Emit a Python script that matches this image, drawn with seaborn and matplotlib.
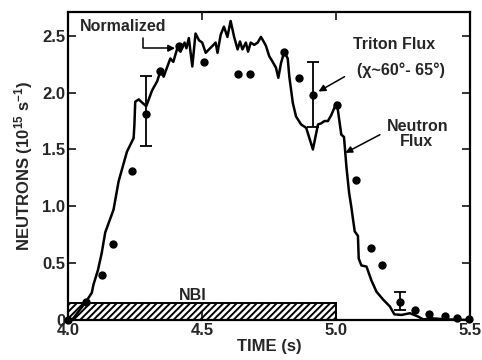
import matplotlib
matplotlib.use("Agg")
import matplotlib.pyplot as plt
import seaborn as sns
import pandas as pd

# ---- data ----
neutron_t = [4.015, 4.067, 4.089, 4.095, 4.112, 4.126, 4.139, 4.170, 4.189, 4.220,
             4.245, 4.248, 4.251, 4.264, 4.292, 4.314, 4.333, 4.345, 4.357, 4.382,
             4.393, 4.408, 4.420, 4.435, 4.442, 4.451, 4.464, 4.476, 4.489, 4.501,
             4.514, 4.526, 4.539, 4.551, 4.558, 4.570, 4.582, 4.595, 4.607, 4.620,
             4.633, 4.642, 4.651, 4.664, 4.672, 4.682, 4.695, 4.708, 4.720, 4.730,
             4.739, 4.751, 4.764, 4.776, 4.785, 4.795, 4.807, 4.820, 4.826, 4.839,
             4.851, 4.870, 4.889, 4.914, 4.933, 4.945, 4.957, 4.970, 4.982, 4.993,
             5.001, 5.007, 5.020, 5.030, 5.039, 5.049, 5.057, 5.064, 5.070, 5.082,
             5.085, 5.095, 5.114, 5.132, 5.151, 5.176, 5.201, 5.218, 5.245, 5.276,
             5.307, 5.326, 5.357, 5.420, 5.500]
neutron_v = [0.00, 0.16, 0.24, 0.31, 0.44, 0.59, 0.77, 0.97, 1.22, 1.48,
             1.60, 1.72, 1.92, 1.94, 1.88, 2.02, 2.10, 2.19, 2.14, 2.30,
             2.27, 2.39, 2.36, 2.44, 2.39, 2.48, 2.23, 2.52, 2.46, 2.44,
             2.35, 2.38, 2.41, 2.44, 2.35, 2.51, 2.58, 2.49, 2.63, 2.49,
             2.38, 2.45, 2.38, 2.44, 2.36, 2.44, 2.42, 2.44, 2.49, 2.45,
             2.41, 2.32, 2.27, 2.22, 2.13, 2.26, 2.36, 2.30, 2.14, 1.91,
             1.79, 1.72, 1.69, 1.50, 1.72, 1.73, 1.75, 1.75, 1.80, 1.86,
             1.91, 1.85, 1.63, 1.61, 1.35, 1.12, 1.00, 0.88, 0.78, 0.74,
             0.54, 0.48, 0.47, 0.35, 0.25, 0.18, 0.12, 0.05, 0.045, 0.06,
             0.03, 0.005, 0.015, 0.005, 0.00]

triton_t = [4.000, 4.067, 4.126, 4.169, 4.239, 4.292, 4.342, 4.415, 4.508, 4.636,
            4.679, 4.805, 4.861, 4.916, 5.004, 5.076, 5.130, 5.173, 5.239, 5.295,
            5.349, 5.408, 5.451, 5.497]
triton_v = [0.00, 0.16, 0.40, 0.67, 1.31, 1.81, 2.19, 2.41, 2.27, 2.16,
            2.16, 2.36, 2.13, 1.98, 1.89, 1.23, 0.63, 0.48, 0.16, 0.09,
            0.05, 0.035, 0.02, 0.005]

err_t = [4.292, 4.916, 5.239]
err_v = [1.81, 1.98, 0.16]
err_lo = [0.28, 0.28, 0.07]
err_hi = [0.34, 0.29, 0.09]

nbi_start = 4.0
nbi_end = 5.0
nbi_height = 0.15

x_ticks = [4.0, 4.5, 5.0, 5.5]
x_ticklabels = ["4.0", "4.5", "5.0", "5.5"]
y_ticks = [0, 0.5, 1.0, 1.5, 2.0, 2.5]
y_ticklabels = ["0", "0.5", "1.0", "1.5", "2.0", "2.5"]

# ---- style ----
sns.set_theme(style="ticks")
plt.rcParams['font.family'] = ['Liberation Sans', 'DejaVu Sans']
plt.rcParams['font.weight'] = 'bold'
plt.rcParams['hatch.linewidth'] = 1.4
plt.rcParams['mathtext.fontset'] = 'custom'
plt.rcParams['mathtext.rm'] = 'Liberation Sans:bold'
plt.rcParams['mathtext.it'] = 'Liberation Sans:bold'
plt.rcParams['mathtext.bf'] = 'Liberation Sans:bold'

fig = plt.figure(figsize=(4.82, 3.60), dpi=100)
ax = fig.add_axes([0.141, 0.111, 0.834, 0.856])

df_n = pd.DataFrame({"t": neutron_t, "v": neutron_v})
df_tr = pd.DataFrame({"t": triton_t, "v": triton_v})

ax.bar(nbi_start, nbi_height, width=nbi_end - nbi_start, align='edge',
       fill=False, hatch='/////', edgecolor='black', linewidth=1.4, zorder=1)

sns.lineplot(data=df_n, x="t", y="v", ax=ax, sort=False, estimator=None,
             color="black", linewidth=1.8, zorder=3)
sns.scatterplot(data=df_tr, x="t", y="v", ax=ax, color="black", s=36,
                edgecolor="black", linewidth=0, zorder=4, clip_on=False)
ax.errorbar(err_t, err_v, yerr=[err_lo, err_hi], fmt='none', ecolor='black',
            elinewidth=1.3, capsize=4, capthick=1.3, zorder=4)

ax.set_xlim(4.0, 5.5)
ax.set_ylim(0, 2.71)
ax.set_xticks(x_ticks)
ax.set_xticklabels(x_ticklabels)
ax.set_yticks(y_ticks)
ax.set_yticklabels(y_ticklabels)
ax.tick_params(axis='both', direction='in', length=6, width=1.3, labelsize=12,
               top=True, right=True)
ax.tick_params(axis='x', pad=2)
ax.tick_params(axis='y', pad=2)
for lab in ax.get_xticklabels() + ax.get_yticklabels():
    lab.set_fontweight('bold')
for sp in ax.spines.values():
    sp.set_linewidth(1.6)
    sp.set_color('black')

ax.set_xlabel("TIME (s)", fontsize=12, fontweight='bold', labelpad=1)
ax.set_ylabel("NEUTRONS (10$^{15}$ s$^{-1}$)", fontsize=12, fontweight='bold', labelpad=5)

# annotations
ax.text(4.045, 2.58, "Normalized", fontsize=11.5, fontweight='bold', ha='left', va='center')
ax.annotate("", xy=(4.40, 2.39), xytext=(4.281, 2.48),
            arrowprops=dict(arrowstyle='-|>', color='black', lw=1.1,
                            connectionstyle="angle,angleA=90,angleB=0,rad=0",
                            shrinkA=0, shrinkB=0, mutation_scale=10))

ax.text(5.216, 2.42, "Triton Flux", fontsize=11.5, fontweight='bold', ha='center', va='center')
ax.text(5.241, 2.20, "(\u03c7~60\u00b0- 65\u00b0)", fontsize=11.5, fontweight='bold',
        ha='center', va='center')
ax.annotate("", xy=(4.935, 2.01), xytext=(5.032, 2.14),
            arrowprops=dict(arrowstyle='-|>', color='black', lw=1.1,
                            shrinkA=0, shrinkB=0, mutation_scale=10))

ax.text(5.305, 1.70, "Neutron", fontsize=11.5, fontweight='bold', ha='center', va='center')
ax.text(5.30, 1.57, "Flux", fontsize=11.5, fontweight='bold', ha='center', va='center')
ax.annotate("", xy=(5.035, 1.47), xytext=(5.164, 1.63),
            arrowprops=dict(arrowstyle='-|>', color='black', lw=1.1,
                            shrinkA=0, shrinkB=0, mutation_scale=10))

ax.text(4.465, 0.22, "NBI", fontsize=11.5, fontweight='bold', ha='center', va='center')

fig.savefig("out.png", dpi=100)
